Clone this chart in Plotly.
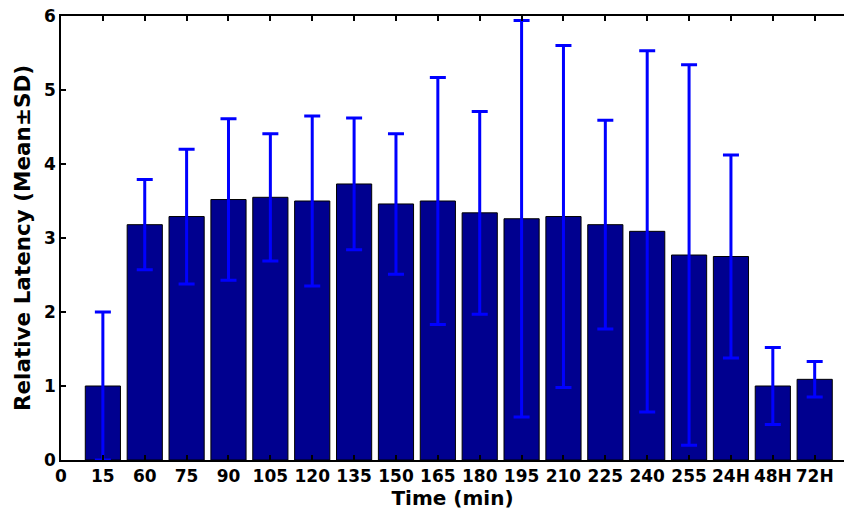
import plotly.graph_objects as go

categories = ["15", "60", "75", "90", "105", "120", "135", "150", "165", "180",
              "195", "210", "225", "240", "255", "24H", "48H", "72H"]
means = [1.00, 3.18, 3.29, 3.52, 3.55, 3.50, 3.73, 3.46, 3.50, 3.34,
         3.26, 3.29, 3.18, 3.09, 2.77, 2.75, 1.00, 1.09]
sds = [1.00, 0.61, 0.91, 1.09, 0.86, 1.15, 0.89, 0.95, 1.67, 1.37,
       2.68, 2.31, 1.41, 2.44, 2.57, 1.37, 0.52, 0.24]
tick_labels = ["0"] + categories
y_ticks = [0, 1, 2, 3, 4, 5, 6]

positions = list(range(1, len(categories) + 1))
tick_positions = list(range(0, len(categories) + 1))

FONT = "DejaVu Sans"

fig = go.Figure()
fig.add_trace(go.Bar(
    x=positions, y=means, width=0.84,
    marker=dict(color="rgb(0,0,143)", line=dict(color="black", width=1)),
    error_y=dict(type="data", array=sds, visible=True,
                 color="rgb(0,0,255)", thickness=3, width=8),
    showlegend=False,
))

fig.update_layout(
    width=844, height=513,
    margin=dict(l=61, r=0, t=16, b=53),
    paper_bgcolor="white", plot_bgcolor="white",
    font=dict(family=FONT, color="black", weight="bold"),
    xaxis=dict(
        range=[0, 18.7], tickmode="array", tickvals=tick_positions, ticktext=tick_labels,
        ticks="inside", ticklen=5, tickwidth=1.5, tickcolor="black",
        showline=True, linecolor="black", linewidth=1.5, mirror="ticks",
        showgrid=False, zeroline=False, automargin=False,
        tickfont=dict(family=FONT, size=17, weight="bold", color="black"),
        title=dict(text="Time (min)", font=dict(family=FONT, size=20, weight="bold"), standoff=4),
    ),
    yaxis=dict(
        range=[0, 6], tickmode="array", tickvals=y_ticks,
        ticks="inside", ticklen=5, tickwidth=1.5, tickcolor="black",
        showline=True, linecolor="black", linewidth=1.5,
        showgrid=False, zeroline=False, automargin=False,
        tickfont=dict(family=FONT, size=17, weight="bold", color="black"),
        title=dict(text="Relative Latency (Mean±SD)", font=dict(family=FONT, size=21.5, weight="bold"), standoff=7),
    ),
)

fig.write_html("out.html", config={"displayModeBar": False})

# remove the browser's default page margin so the figure fills the window exactly
with open("out.html", "r", encoding="utf-8") as f:
    html = f.read()
html = html.replace("<head>", "<head><style>html,body{margin:0;padding:0;overflow:hidden;}</style>", 1)
with open("out.html", "w", encoding="utf-8") as f:
    f.write(html)
